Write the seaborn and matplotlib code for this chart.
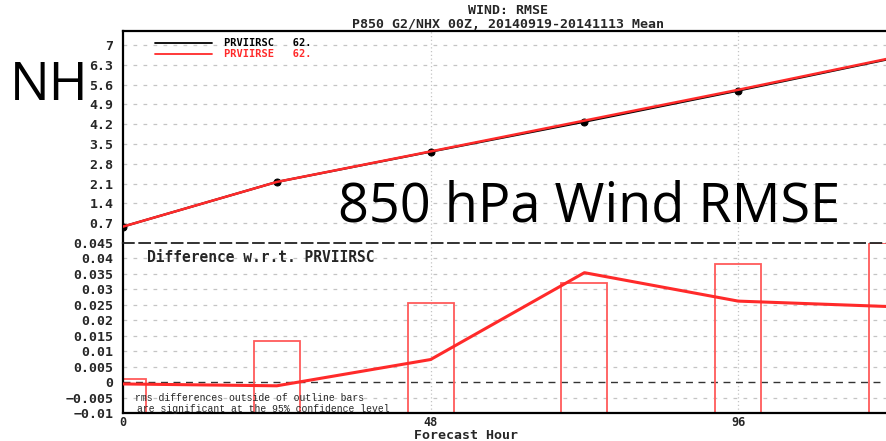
import numpy as np
import pandas as pd
import matplotlib
matplotlib.use("Agg")
import matplotlib.pyplot as plt
import seaborn as sns

# Forecast lead times (hours) and mean 850 hPa wind RMSE for the two experiments
hours = [0, 24, 48, 72, 96, 120]
rmse_rsc = [0.58, 2.16, 3.23, 4.29, 5.39, 6.53]
rmse_rse = [0.58, 2.16, 3.24, 4.33, 5.42, 6.55]

# RMSE difference (PRVIIRSE - PRVIIRSC) and the 95% significance thresholds
diff = [-0.0006, -0.0012, 0.0073, 0.0354, 0.0262, 0.0244]
sig_bar = [0.0009, 0.0133, 0.0257, 0.0322, 0.0383, 0.0449]

top_ticks = [0.7, 1.4, 2.1, 2.8, 3.5, 4.2, 4.9, 5.6, 6.3, 7]
top_ticklabels = ["0.7", "1.4", "2.1", "2.8", "3.5", "4.2", "4.9", "5.6", "6.3", "7"]
bot_ticks = [-0.01, -0.005, 0, 0.005, 0.01, 0.015, 0.02, 0.025, 0.03, 0.035, 0.04, 0.045]
bot_ticklabels = ["\u22120.01", "\u22120.005", "0", "0.005", "0.01", "0.015", "0.02",
                  "0.025", "0.03", "0.035", "0.04", "0.045"]
x_ticks = [0, 48, 96]

names = ["PRVIIRSC", "PRVIIRSE"]
counts = ["62.", "62."]

df_top = pd.DataFrame({
    "hour": hours * 2,
    "rmse": rmse_rsc + rmse_rse,
    "exp": [names[0]] * len(hours) + [names[1]] * len(hours),
})
df_diff = pd.DataFrame({"hour": hours, "diff": diff})

sns.set_theme(style="white")
plt.rcParams["font.family"] = ["DejaVu Sans"]

W, H = 887, 441
fig = plt.figure(figsize=(W / 100, H / 100), dpi=100)


def fx(px):
    return px / W


def fy(py):
    return 1 - py / H


left = fx(123)
width = (892 - 123) / W
ax_top = fig.add_axes([left, fy(243), width, fy(31) - fy(243)])
ax_bot = fig.add_axes([left, fy(413), width, fy(243) - fy(413)])

RED = "#ff2a2a"
BAR_RED = "#ff5a5a"
GRID = "#c4c4c4"
mono_bold = dict(family="DejaVu Sans Mono", weight="bold")

# ---- upper panel: RMSE curves ----
for ax in (ax_top, ax_bot):
    ax.set_facecolor("white")
    ax.set_xlim(0, 120)

ax_top.set_ylim(0, 7.5)
for yv in top_ticks:
    ax_top.axhline(yv, color=GRID, lw=0.9, ls=(0, (3, 5)), zorder=0)
for xv in x_ticks[1:]:
    ax_top.axvline(xv, color=GRID, lw=0.9, ls=(0, (1, 2)), zorder=0)

sns.lineplot(data=df_top[df_top.exp == names[0]], x="hour", y="rmse", ax=ax_top,
             color="black", lw=1.6, marker="o", markersize=5, markeredgecolor="black",
             legend=False, zorder=3)
sns.lineplot(data=df_top[df_top.exp == names[1]], x="hour", y="rmse", ax=ax_top,
             color=RED, lw=1.8, legend=False, zorder=4)

ax_top.set_yticks(top_ticks)
ax_top.set_yticklabels(top_ticklabels, fontsize=9.5, **mono_bold)
ax_top.set_xticks([])
ax_top.set_xlabel("")
ax_top.set_ylabel("")
for s in ["right", "bottom"]:
    ax_top.spines[s].set_visible(False)
ax_top.spines["left"].set_color("black")
ax_top.spines["left"].set_linewidth(1.6)
ax_top.spines["top"].set_color("black")
ax_top.spines["top"].set_linewidth(1.6)
ax_top.tick_params(axis="y", direction="out", length=4, width=1.2, color="black", pad=3)

# legend keys
for i, (nm, ct, c) in enumerate(zip(names, counts, ["black", RED])):
    yk = fy(43 + 11 * i)
    fig.add_artist(plt.Line2D([fx(155), fx(212)], [yk, yk], color=c, lw=1.3))
    fig.text(fx(224), yk, f"{nm}   {ct}", color=c, fontsize=7.5, va="center", **mono_bold)

# ---- lower panel: difference with significance bars ----
ax_bot.set_ylim(-0.01, 0.045)
for yv in bot_ticks[1:-1]:
    if yv != 0:
        ax_bot.axhline(yv, color=GRID, lw=0.9, ls=(0, (3, 5)), zorder=0)
for xv in x_ticks[1:]:
    ax_bot.axvline(xv, color=GRID, lw=0.9, ls=(0, (1, 2)), zorder=0)
ax_bot.axhline(0, color="#333333", lw=1.0, ls=(0, (5, 4)), zorder=1)

ymin = ax_bot.get_ylim()[0]
ax_bot.bar(hours, np.array(sig_bar) - ymin, bottom=ymin, width=7.2, fill=False,
           edgecolor=BAR_RED, lw=1.3, zorder=2)
sns.lineplot(data=df_diff, x="hour", y="diff", ax=ax_bot, color=RED, lw=2.2,
             legend=False, zorder=4)

ax_bot.set_yticks(bot_ticks)
ax_bot.set_yticklabels(bot_ticklabels, fontsize=9.5, **mono_bold)
ax_bot.set_xticks(x_ticks)
ax_bot.set_xticklabels([str(v) for v in x_ticks], fontsize=8.5, **mono_bold)
ax_bot.set_xlabel("")
ax_bot.set_ylabel("")
ax_bot.spines["right"].set_visible(False)
ax_bot.spines["top"].set_color("#222222")
ax_bot.spines["top"].set_linewidth(1.3)
ax_bot.spines["top"].set_linestyle((0, (6, 3)))
for s in ["left", "bottom"]:
    ax_bot.spines[s].set_color("black")
    ax_bot.spines[s].set_linewidth(1.6)
ax_bot.tick_params(axis="y", direction="out", length=4, width=1.2, color="black", pad=3)
ax_bot.tick_params(axis="x", direction="out", length=2, width=1.2, color="black", pad=0)

ax_bot.text(fx(147), fy(258), "Difference w.r.t. PRVIIRSC", transform=fig.transFigure,
            fontsize=10.5, va="center", ha="left", **mono_bold)
ax_bot.text(fx(135), fy(398), "rms differences outside of outline bars",
            transform=fig.transFigure, fontsize=7, va="center", ha="left",
            family="Liberation Mono")
ax_bot.text(fx(137), fy(409), "are significant at the 95% confidence level",
            transform=fig.transFigure, fontsize=7, va="center", ha="left",
            family="Liberation Mono")

# ---- titles and annotations ----
fig.text(fx(508), fy(10), "WIND: RMSE", ha="center", va="center", fontsize=9.5, **mono_bold)
fig.text(fx(508), fy(24), "P850 G2/NHX 00Z, 20140919-20141113 Mean", ha="center",
         va="center", fontsize=9.5, **mono_bold)
fig.text(fx(466), fy(435.5), "Forecast Hour", ha="center", va="center", fontsize=9.5,
         **mono_bold)

fig.text(fx(10), fy(86), "NH", ha="left", va="center", fontsize=38, family="Open Sans",
         color="black")
fig.text(fx(338), fy(207), "850 hPa Wind RMSE", ha="left", va="center", fontsize=39,
         family="Open Sans", color="black")

fig.savefig("out.png", dpi=100)
